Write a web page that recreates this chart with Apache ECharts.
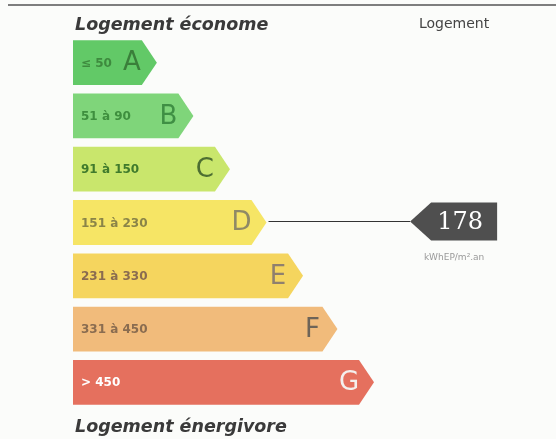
<!DOCTYPE html>
<html>
<head>
<meta charset="utf-8">
<script src="https://cdn.jsdelivr.net/npm/echarts@6/dist/echarts.min.js"></script>
<style>
  html, body { margin: 0; padding: 0; background: #fbfcfa; }
  #dpe { width: 556px; height: 439px; }
</style>
</head>
<body>
<div id="dpe"></div>
<script>
// classes énergie
let classes = ["A", "B", "C", "D", "E", "F", "G"];
let ranges = ["≤ 50", "51 à 90", "91 à 150", "151 à 230", "231 à 330", "331 à 450", "> 450"];
let seuils = [50, 90, 150, 230, 330, 450];
let barLength = [19.5, 28, 36.5, 45, 53.5, 61.5, 70]; // longueur de la flèche
let consommation = 178;
let unite = "kWhEP/m².an";

let colors = ["#62c967", "#7fd57a", "#c9e66c", "#f6e565", "#f5d55e", "#f1bb7b", "#e5705e"];
let textColors = ["#3e8a3e", "#3e8f3e", "#3f7a2c", "#8a8448", "#8a6c50", "#8a6c50", "#ffffff"];
let letterColors = ["#3a7f3a", "#3f8f44", "#4d6e32", "#8f8a66", "#8f806e", "#6e6458", "#f4f0ee"];

// classe du logement
let classeIdx = seuils.findIndex(s => consommation <= s);
if (classeIdx < 0) classeIdx = classes.length - 1;

let markerX = 78.4;

let chart = echarts.init(document.getElementById("dpe"));

let option = {
  backgroundColor: "#fbfcfa",
  animation: false,
  grid: { left: 73, top: 36, width: 430, height: 373 },
  xAxis: { type: "value", min: 0, max: 100, show: false },
  yAxis: { type: "category", data: classes, inverse: true, show: false },
  title: [
    {
      text: "Logement économe",
      left: 70, top: 11,
      textStyle: { fontFamily: "DejaVu Sans", fontStyle: "italic", fontWeight: "bold", fontSize: 17.5, color: "#3a3a3a" }
    },
    {
      text: "Logement énergivore",
      left: 70, top: 413,
      textStyle: { fontFamily: "DejaVu Sans", fontStyle: "italic", fontWeight: "bold", fontSize: 17.5, color: "#3a3a3a" }
    },
    {
      text: "Logement",
      left: 414, top: 12,
      textStyle: { fontFamily: "DejaVu Sans", fontWeight: "normal", fontSize: 14, color: "#444" }
    }
  ],
  graphic: [{
    type: "line",
    shape: { x1: 8, y1: 5, x2: 556, y2: 5 },
    style: { stroke: "#555", lineWidth: 1.5 }
  }],
  series: [
    {
      name: "classes",
      type: "custom",
      data: classes.map((c, i) => [barLength[i], i]),
      encode: { x: 0, y: 1 },
      renderItem: function (params, api) {
        let i = params.dataIndex;
        let start = api.coord([0, i]);
        let end = api.coord([api.value(0), i]);
        let h = api.size([0, 1])[1] * 0.84;
        let tip = 15;
        let y0 = start[1] - h / 2, y1 = start[1] + h / 2;
        return {
          type: "group",
          children: [
            {
              type: "polygon",
              shape: { points: [[start[0], y0], [end[0] - tip, y0], [end[0], start[1]], [end[0] - tip, y1], [start[0], y1]] },
              style: { fill: colors[i] }
            },
            {
              type: "text",
              style: {
                text: ranges[i], x: start[0] + 8, y: start[1] + 1,
                verticalAlign: "middle", fill: textColors[i],
                font: 'bold 12px "DejaVu Sans"'
              }
            },
            {
              type: "text",
              style: {
                text: classes[i], x: end[0] - 25, y: start[1] + 1,
                align: "center", verticalAlign: "middle", fill: letterColors[i],
                font: '26px "DejaVu Sans"'
              }
            }
          ]
        };
      }
    },
    {
      name: "logement",
      type: "custom",
      data: [[consommation, classeIdx]],
      renderItem: function (params, api) {
        let idx = api.value(1);
        let from = api.coord([barLength[idx], idx]);
        let tipX = api.coord([markerX, idx])[0];
        let cy = from[1] - 1;
        let h = 38, notch = 21, right = tipX + 87;
        return {
          type: "group",
          children: [
            {
              type: "line",
              shape: { x1: from[0] + 2, y1: cy, x2: tipX, y2: cy },
              style: { stroke: "#333", lineWidth: 1.2 }
            },
            {
              type: "polygon",
              shape: { points: [[tipX, cy], [tipX + notch, cy - h / 2], [right, cy - h / 2], [right, cy + h / 2], [tipX + notch, cy + h / 2]] },
              style: { fill: "#4f4f4f" }
            },
            {
              type: "text",
              style: {
                text: String(api.value(0)), x: tipX + 50, y: cy + 1,
                align: "center", verticalAlign: "middle", fill: "#fff",
                font: '24px "DejaVu Serif"'
              }
            },
            {
              type: "text",
              style: {
                text: unite, x: tipX + 44, y: cy + 36,
                align: "center", verticalAlign: "middle", fill: "#999",
                font: '9px "DejaVu Sans"'
              }
            }
          ]
        };
      }
    }
  ]
};

chart.setOption(option, true);
</script>
</body>
</html>
